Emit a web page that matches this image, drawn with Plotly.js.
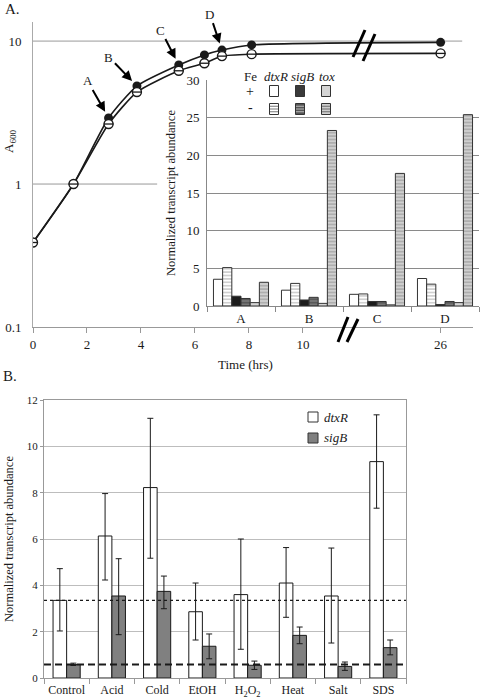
<!DOCTYPE html>
<html><head><meta charset="utf-8">
<script src="https://cdn.plot.ly/plotly-3.0.1.min.js"></script>
<style>html,body{margin:0;padding:0;background:#fff}</style>
</head><body><div id="chart" style="width:480px;height:700px"></div>
<script>
// ---------- Panel A: growth curves ----------
const timeHrs      = [0, 1.5, 2.8, 3.85, 5.4, 6.35, 7.0, 8.1, 26];
const a600PlusFe   = [0.39, 1.0, 2.9, 4.85, 6.8, 8.0, 8.65, 9.4, 9.8];
const a600MinusFe  = [0.39, 1.0, 2.63, 4.4, 6.2, 7.0, 7.85, 8.1, 8.2];
const timeTicks    = [0, 2, 4, 6, 8, 10, 26];
const a600Ticks    = [0.1, 1, 10];
const sampleLabels = ['A', 'B', 'C', 'D'];
const sampleIndex  = [2, 3, 4, 6];

// ---------- Panel A inset: transcript abundance ----------
const dtxRPlusFe  = [3.55, 2.1, 1.55, 3.65];
const dtxRMinusFe = [5.1, 3.0, 1.6, 2.9];
const sigBPlusFe  = [1.3, 0.8, 0.6, 0.2];
const sigBMinusFe = [1.0, 1.15, 0.6, 0.6];
const toxPlusFe   = [0.45, 0.35, 0.15, 0.45];
const toxMinusFe  = [3.15, 23.3, 17.6, 25.4];

// ---------- Panel B: stress conditions ----------
const conditions = ['Control', 'Acid', 'Cold', 'EtOH', 'H<sub>2</sub>O<sub>2</sub>', 'Heat', 'Salt', 'SDS'];
const dtxRStress = [3.35, 6.13, 8.22, 2.86, 3.6, 4.1, 3.54, 9.34];
const dtxRHigh   = [4.72, 7.96, 11.21, 4.1, 6.0, 5.63, 5.61, 11.36];
const dtxRLow    = [2.03, 4.23, 5.17, 1.64, 1.24, 2.62, 1.51, 7.33];
const sigBStress = [0.58, 3.54, 3.74, 1.37, 0.55, 1.84, 0.5, 1.31];
const sigBHigh   = [0.64, 5.15, 4.4, 1.9, 0.73, 2.2, 0.69, 1.64];
const sigBLow    = [0.54, 1.87, 2.99, 0.83, 0.37, 1.48, 0.33, 1.0];

// ---------- helpers ----------
const W = 480, H = 700;
const px = x => x / W;
const py = y => 1 - y / H;
const FONT = '"Liberation Serif", "DejaVu Serif", serif';
const INK = '#1a1a1a';
// broken time axis: hours up to 10 are linear, the 26 h sample is drawn just after the break
const axisPos = t => (t <= 10 ? t : 15.1 + (t - 26) * 0.3);
const yRangeA = [-1, Math.log10(13.6)];
const yFracA = v => (Math.log10(v) - yRangeA[0]) / (yRangeA[1] - yRangeA[0]);

const tA = timeHrs.map(axisPos);

const traces = [];
traces.push({
  type: 'scatter', mode: 'lines+markers', x: tA, y: a600PlusFe, xaxis: 'x', yaxis: 'y',
  line: {color: INK, width: 1.6, shape: 'spline', smoothing: 0.6},
  marker: {symbol: 'circle', size: 9, color: INK}, showlegend: false, name: '+Fe'
});
traces.push({
  type: 'scatter', mode: 'lines+markers', x: tA, y: a600MinusFe, xaxis: 'x', yaxis: 'y',
  line: {color: INK, width: 1.6, shape: 'spline', smoothing: 0.6},
  marker: {symbol: 'circle', size: 9, color: '#fff', line: {color: INK, width: 1.4}}, showlegend: false, name: '-Fe'
});
traces.push({
  type: 'scatter', mode: 'markers', x: tA, y: a600MinusFe, xaxis: 'x', yaxis: 'y',
  marker: {symbol: 'line-ew', size: 7, line: {color: INK, width: 1.3}}, showlegend: false, hoverinfo: 'skip'
});

// inset bars
const pat = (bg, fg) => ({shape: '-', bgcolor: bg, fgcolor: fg, size: 3.4, solidity: 0.35, fillmode: 'overlay'});
const insetSeries = [
  {y: dtxRPlusFe,  color: '#ffffff', pattern: null},
  {y: dtxRMinusFe, color: '#ffffff', pattern: pat('#ffffff', '#777777')},
  {y: sigBPlusFe,  color: '#1c1c1c', pattern: null},
  {y: sigBMinusFe, color: '#777777', pattern: pat('#777777', '#222222')},
  {y: toxPlusFe,   color: '#d4d4d4', pattern: null},
  {y: toxMinusFe,  color: '#cfcfcf', pattern: pat('#cfcfcf', '#6e6e6e')}
];
insetSeries.forEach(s => {
  const m = {color: s.color, line: {color: '#333', width: 1}};
  if (s.pattern) m.pattern = s.pattern;
  traces.push({type: 'bar', x: sampleLabels, y: s.y, xaxis: 'x2', yaxis: 'y2', marker: m, showlegend: false});
});

// panel B bars
traces.push({
  type: 'bar', x: conditions, y: dtxRStress, xaxis: 'x3', yaxis: 'y3', width: 0.3, offset: -0.3,
  marker: {color: '#ffffff', line: {color: INK, width: 1}}, showlegend: false,
  error_y: {type: 'data', symmetric: false, array: dtxRHigh.map((h, i) => h - dtxRStress[i]),
            arrayminus: dtxRStress.map((v, i) => v - dtxRLow[i]), color: INK, thickness: 1, width: 3}
});
traces.push({
  type: 'bar', x: conditions, y: sigBStress, xaxis: 'x3', yaxis: 'y3', width: 0.3, offset: 0,
  marker: {color: '#808080', line: {color: INK, width: 1}}, showlegend: false,
  error_y: {type: 'data', symmetric: false, array: sigBHigh.map((h, i) => h - sigBStress[i]),
            arrayminus: sigBStress.map((v, i) => v - sigBLow[i]), color: INK, thickness: 1, width: 3}
});

// ---------- shapes ----------
const shapes = [];
// panel A gridlines (the 1.0 line is hidden behind the inset)
shapes.push({type: 'line', layer: 'below', xref: 'x', yref: 'y domain', x0: 0, x1: 15.9, y0: yFracA(10), y1: yFracA(10), line: {color: '#999', width: 1}});
shapes.push({type: 'line', layer: 'below', xref: 'x', yref: 'y domain', x0: 0, x1: 4.6, y0: yFracA(1), y1: yFracA(1), line: {color: '#999', width: 1}});
// axis break marks
const slash = (x0, y0, x1, y1) => ({type: 'line', xref: 'paper', yref: 'paper', x0: px(x0), y0: py(y0), x1: px(x1), y1: py(y1), line: {color: '#000', width: 3}});
shapes.push(slash(353, 57, 365, 30), slash(363, 61, 375, 34));
shapes.push(slash(338, 342, 348, 317), slash(347, 342, 358, 319));
// inset legend swatches
const swatch = (cx, cy, fill, stripe) => {
  const x0 = cx - 4.5, x1 = cx + 4.5, y0 = cy - 5.5, y1 = cy + 5.5;
  shapes.push({type: 'rect', xref: 'paper', yref: 'paper', x0: px(x0), x1: px(x1), y0: py(y0), y1: py(y1), fillcolor: fill, line: {color: '#333', width: 1}});
  if (stripe) for (let k = 1; k <= 3; k++) {
    const yy = y0 + k * 11 / 4;
    shapes.push({type: 'line', xref: 'paper', yref: 'paper', x0: px(x0 + 0.5), x1: px(x1 - 0.5), y0: py(yy), y1: py(yy), line: {color: stripe, width: 1}});
  }
};
swatch(274, 91, '#ffffff', null);
swatch(300, 91, '#3a3a3a', null);
swatch(326, 91, '#d4d4d4', null);
swatch(274, 109, '#ffffff', '#777');
swatch(300, 109, '#555555', '#bbb');
swatch(326, 109, '#cfcfcf', '#6e6e6e');
// panel B reference levels (control values)
shapes.push({type: 'line', xref: 'x3 domain', yref: 'y3', x0: 0, x1: 1, y0: dtxRStress[0], y1: dtxRStress[0], line: {color: INK, width: 1.3, dash: 'dot'}});
shapes.push({type: 'line', xref: 'x3 domain', yref: 'y3', x0: 0, x1: 1, y0: sigBStress[0], y1: sigBStress[0], line: {color: INK, width: 2, dash: '7px,4px'}});
// panel B legend swatches
shapes.push({type: 'rect', xref: 'paper', yref: 'paper', x0: px(308), x1: px(318), y0: py(412), y1: py(422), fillcolor: '#fff', line: {color: '#333', width: 1}});
shapes.push({type: 'rect', xref: 'paper', yref: 'paper', x0: px(308), x1: px(318), y0: py(433), y1: py(443), fillcolor: '#808080', line: {color: '#333', width: 1}});

// ---------- annotations ----------
const ann = [];
const txt = (x, y, text, opts = {}) => Object.assign({xref: 'paper', yref: 'paper', x: px(x), y: py(y), text, showarrow: false,
  font: {family: FONT, size: 13, color: INK}, xanchor: 'center', yanchor: 'middle'}, opts);
ann.push(txt(3, 9, 'A.', {xanchor: 'left', font: {family: FONT, size: 15, color: INK}}));
ann.push(txt(1, 376, 'B.', {xanchor: 'left', font: {family: FONT, size: 15, color: INK}}));
ann.push(txt(9, 142, 'A<sub>600</sub>', {textangle: -90}));
ann.push(txt(246, 364, 'Time (hrs)'));
// arrows pointing at sampled time points
const arrowOff = [[-21, -37], [-28, -29], [-18, -35], [-12, -36]];
sampleIndex.forEach((idx, k) => {
  ann.push({xref: 'x', yref: 'y', x: tA[idx], y: Math.log10(a600PlusFe[idx]), text: sampleLabels[k],
    showarrow: true, arrowhead: 2, arrowsize: 1, arrowwidth: 2, arrowcolor: '#000', standoff: 7,
    ax: arrowOff[k][0], ay: arrowOff[k][1], font: {family: FONT, size: 13, color: INK}});
});
// inset legend text
ann.push(txt(250, 77, 'Fe'));
ann.push(txt(276, 77, '<i>dtxR</i>'));
ann.push(txt(302, 77, '<i>sigB</i>'));
ann.push(txt(327, 77, '<i>tox</i>'));
ann.push(txt(250, 91, '+', {font: {family: FONT, size: 14, color: INK}}));
ann.push(txt(250, 108, '-', {font: {family: FONT, size: 14, color: INK}}));
// panel B legend text
ann.push(txt(322, 417, '<i>dtxR</i>', {xanchor: 'left'}));
ann.push(txt(322, 438, '<i>sigB</i>', {xanchor: 'left'}));

const tickFont = {family: FONT, size: 13, color: INK};
const layout = {
  width: W, height: H, margin: {l: 0, r: 0, t: 0, b: 0},
  paper_bgcolor: '#fff', plot_bgcolor: 'rgba(0,0,0,0)',
  barmode: 'group', bargap: 0.19, bargroupgap: 0,
  showlegend: false, hovermode: false,
  font: {family: FONT, color: INK},
  xaxis: {domain: [px(33), px(473)], anchor: 'y', range: [0, 16.3], tickvals: timeTicks.map(axisPos), ticktext: timeTicks.map(String),
          showgrid: false, zeroline: false, showline: true, linecolor: '#999', linewidth: 1,
          ticks: 'outside', ticklen: 5, tickcolor: '#999', tickfont: tickFont},
  yaxis: {domain: [py(327), py(22)], anchor: 'x', type: 'log', range: yRangeA, tickvals: a600Ticks, ticktext: a600Ticks.map(String),
          showgrid: false, zeroline: false, showline: true, linecolor: '#aaa', ticks: '', ticklabelstandoff: 8, tickfont: tickFont},
  xaxis2: {domain: [px(207), px(479)], anchor: 'y2', type: 'category', tickson: 'boundaries', ticks: 'outside', ticklen: 5,
           tickcolor: '#888', showline: true, linecolor: '#888', showgrid: false, tickfont: tickFont},
  yaxis2: {domain: [py(306), py(80)], anchor: 'x2', range: [0, 30], dtick: 5, showgrid: true, gridcolor: '#8a8a8a',
           zeroline: false, showline: true, linecolor: '#888', ticks: '', ticklabelstandoff: 4, tickfont: tickFont,
           title: {text: 'Normalized transcript abundance', font: {family: FONT, size: 12.5, color: INK}, standoff: 8}},
  xaxis3: {domain: [px(44), px(406)], anchor: 'y3', type: 'category', tickson: 'boundaries', ticks: 'outside', ticklen: 5,
           tickcolor: '#999', showline: true, linecolor: '#999', mirror: true, showgrid: false, tickangle: 0, ticklabelstandoff: 1,
           tickfont: {family: FONT, size: 12, color: INK}},
  yaxis3: {domain: [py(678), py(400)], anchor: 'x3', range: [0, 12], dtick: 2, showgrid: true, gridcolor: '#bdbdbd',
           zeroline: false, showline: true, linecolor: '#999', mirror: true, ticks: 'outside', ticklen: 3, tickcolor: '#999',
           tickfont: {family: FONT, size: 11, color: INK},
           title: {text: 'Normalized transcript abundance', font: {family: FONT, size: 12.5, color: INK}, standoff: 10}},
  shapes: shapes, annotations: ann
};

Plotly.newPlot('chart', traces, layout, {staticPlot: true, displayModeBar: false});
</script></body></html>
